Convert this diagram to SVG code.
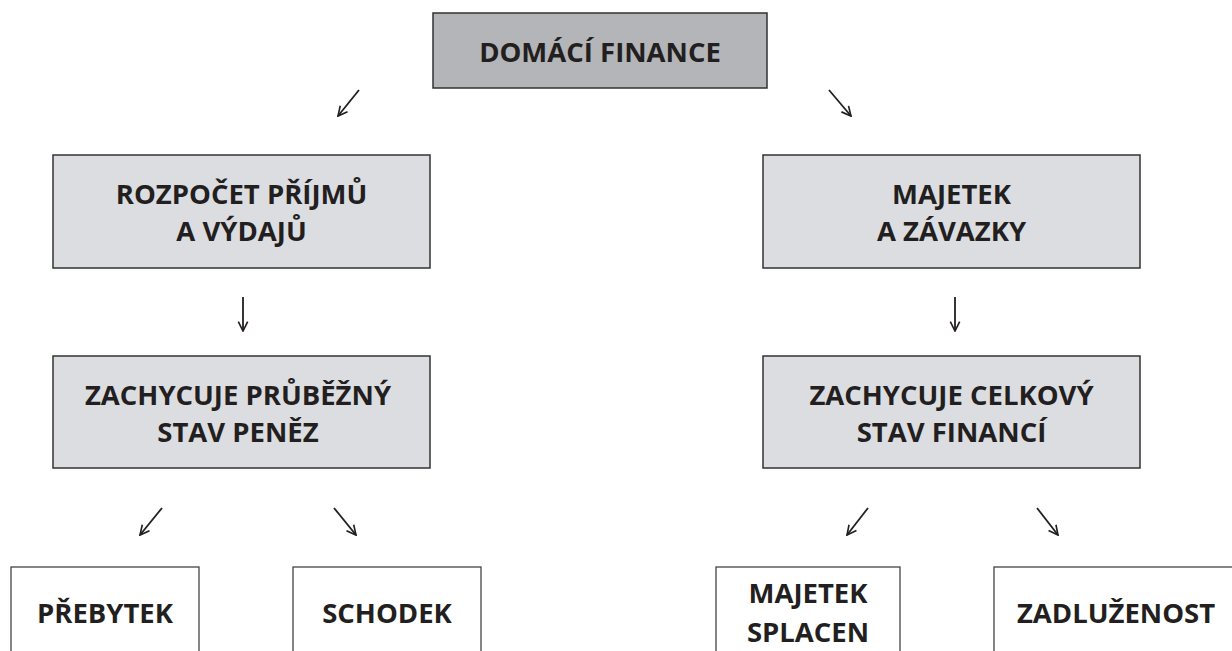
<svg xmlns="http://www.w3.org/2000/svg" width="1232" height="651" viewBox="0 0 1232 651">
<defs>
<style>
.t{font-family:"Open Sans","Liberation Sans",sans-serif;font-weight:700;font-size:27.5px;fill:#231f20;text-anchor:middle}
.dark{fill:#b4b5b8;stroke:#333;stroke-width:1.5}
.light{fill:#dcdde0;stroke:#333;stroke-width:1.5}
.plain{fill:#fff;stroke:#444;stroke-width:1.3}
.c{stroke:#231f20;stroke-width:1.8;fill:none;marker-end:url(#ah)}
</style>
<marker id="ah" viewBox="0 0 10 10" refX="9" refY="5" markerWidth="6.5" markerHeight="6.5" orient="auto" markerUnits="strokeWidth">
<path d="M1,1 L9,5 L1,9" fill="none" stroke="#231f20" stroke-width="1.4"/>
</marker>
</defs>
<rect width="1232" height="651" fill="#fff"/>
<g id="connectors">
<line class="c" x1="359" y1="90" x2="338" y2="116"/>
<line class="c" x1="829" y1="90" x2="851" y2="116"/>
<line class="c" x1="243" y1="297" x2="243" y2="331"/>
<line class="c" x1="955" y1="297" x2="955" y2="331"/>
<line class="c" x1="162" y1="508" x2="140" y2="535"/>
<line class="c" x1="334" y1="508" x2="356" y2="535"/>
<line class="c" x1="868" y1="508" x2="847" y2="535"/>
<line class="c" x1="1037" y1="508" x2="1058" y2="535"/>
</g>
<g id="n-domaci">
<rect class="dark" x="433" y="13" width="334" height="75"/>
<text class="t" x="600" y="62">DOMÁCÍ FINANCE</text>
</g>
<g id="n-rozpocet">
<rect class="light" x="53" y="155" width="377" height="113"/>
<text class="t" x="241.5" y="204">ROZPOČET PŘÍJMŮ</text>
<text class="t" x="241.5" y="241">A VÝDAJŮ</text>
</g>
<g id="n-majetek">
<rect class="light" x="763" y="155" width="377" height="113"/>
<text class="t" x="951.5" y="204">MAJETEK</text>
<text class="t" x="951.5" y="241">A ZÁVAZKY</text>
</g>
<g id="n-prubezny">
<rect class="light" x="53" y="356" width="377" height="112"/>
<text class="t" x="238" y="405">ZACHYCUJE PRŮBĚŽNÝ</text>
<text class="t" x="238" y="442">STAV PENĚZ</text>
</g>
<g id="n-celkovy">
<rect class="light" x="763" y="356" width="377" height="112"/>
<text class="t" x="951.5" y="405">ZACHYCUJE CELKOVÝ</text>
<text class="t" x="951.5" y="442">STAV FINANCÍ</text>
</g>
<g id="n-prebytek">
<rect class="plain" x="11" y="567" width="188" height="100"/>
<text class="t" x="105" y="623">PŘEBYTEK</text>
</g>
<g id="n-schodek">
<rect class="plain" x="293" y="567" width="188" height="100"/>
<text class="t" x="387" y="623">SCHODEK</text>
</g>
<g id="n-splacen">
<rect class="plain" x="716" y="567" width="184" height="100"/>
<text class="t" x="808" y="603">MAJETEK</text>
<text class="t" x="808" y="642">SPLACEN</text>
</g>
<g id="n-zadluzenost">
<rect class="plain" x="994" y="567" width="260" height="100"/>
<text class="t" x="1116" y="623">ZADLUŽENOST</text>
</g>
</svg>
